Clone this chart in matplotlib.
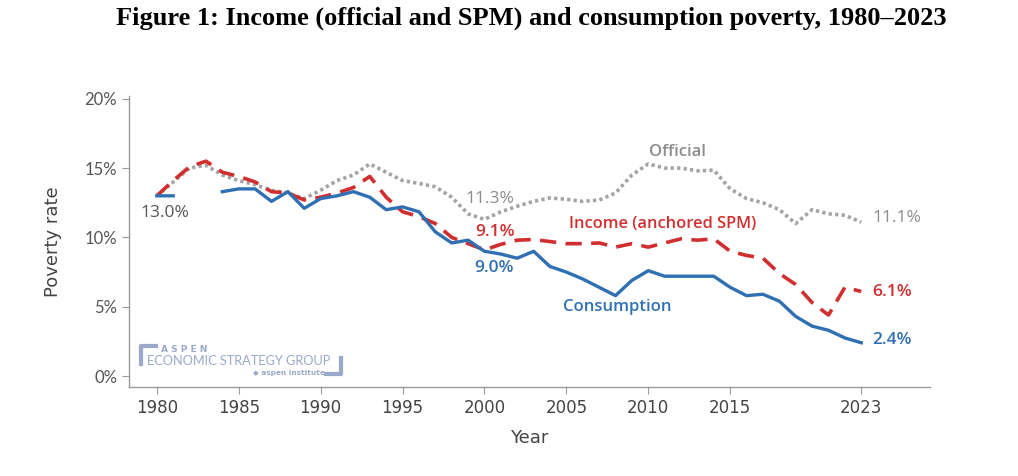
import numpy as np
import matplotlib
matplotlib.use('Agg')
import matplotlib.pyplot as plt
from matplotlib.lines import Line2D

years = list(range(1980, 2024))

official = [13.0, 14.0, 15.0, 15.2, 14.5, 14.1, 13.8, 13.4, 13.2, 12.8,
            13.4, 14.1, 14.5, 15.3, 14.7, 14.1, 13.9, 13.65, 12.9, 11.7,
            11.3, 11.85, 12.25, 12.6, 12.85, 12.75, 12.6, 12.7, 13.2, 14.5,
            15.3, 15.0, 15.0, 14.8, 14.85, 13.5, 12.8, 12.5, 12.0, 11.0,
            12.0, 11.7, 11.6, 11.1]

spm = [13.0, 14.1, 15.1, 15.5, 14.7, 14.4, 14.0, 13.3, 13.2, 12.7,
       12.9, 13.2, 13.6, 14.4, 12.9, 11.85, 11.5, 11.0, 10.0, 9.55,
       9.1, 9.5, 9.8, 9.85, 9.7, 9.55, 9.55, 9.6, 9.3, 9.55,
       9.3, 9.6, 9.9, 9.8, 9.9, 9.0, 8.7, 8.5, 7.4, 6.6,
       5.3, 4.4, 6.4, 6.1]

consumption = [13.0, 13.0, np.nan, np.nan, 13.3, 13.5, 13.5, 12.6, 13.3, 12.1,
               12.8, 13.0, 13.3, 12.9, 12.0, 12.2, 11.85, 10.4, 9.6, 9.8,
               9.0, 8.8, 8.5, 9.0, 7.9, 7.5, 7.0, 6.4, 5.8, 6.9,
               7.6, 7.2, 7.2, 7.2, 7.2, 6.4, 5.8, 5.9, 5.4, 4.3,
               3.6, 3.3, 2.75, 2.4]

x_ticks = [1980, 1985, 1990, 1995, 2000, 2005, 2010, 2015, 2023]
y_ticks = [0, 5, 10, 15, 20]

blue = '#2f6fb3'
red = '#d12f2f'
grey = '#a3a3a3'
txt_grey = '#8c8c8c'
axis_grey = '#9a9a9a'
logo = '#9aa8c9'

plt.rcParams['font.family'] = ['DejaVu Sans']
ann_font = ['Open Sans', 'DejaVu Sans']

fig = plt.figure(figsize=(10.18, 4.76), dpi=100)
ax = fig.add_axes([0.1267, 0.187, 0.7869, 0.611])

ax.plot(years, official, color=grey, lw=2.6, linestyle=(0, (0.9, 0.9)))
ax.plot(years, spm, color=red, lw=2.6, linestyle=(0, (4.5, 2.6)))
ax.plot(years, consumption, color=blue, lw=2.4)

ax.set_xlim(1978.3, 2027.2)
ax.set_ylim(-0.79, 20.19)
ax.set_xticks(x_ticks)
ax.set_xticklabels([str(y) for y in x_ticks], fontsize=12, color='#444444',
                   fontfamily=['Liberation Sans Narrow', 'DejaVu Sans'])
ax.set_yticks(y_ticks)
ax.set_yticklabels(['%d%%' % v for v in y_ticks], fontsize=12, color='#555555',
                   fontfamily=['Lato', 'DejaVu Sans'])
for s in ['top', 'right']:
    ax.spines[s].set_visible(False)
for s in ['left', 'bottom']:
    ax.spines[s].set_color(axis_grey)
    ax.spines[s].set_linewidth(1.0)
ax.tick_params(colors=axis_grey, length=5, width=0.8)
ax.tick_params(axis='x', labelcolor='#444444')
ax.tick_params(axis='y', labelcolor='#555555')

ax.set_ylabel('Poverty rate', fontsize=13, color='#444444', labelpad=16)
ax.set_xlabel('Year', fontsize=13, color='#444444', labelpad=9)

# annotations
ax.text(1980.5, 11.75, '13.0%', fontsize=12.5, color='#555555', ha='center', va='center',
        fontfamily=ann_font)
ax.text(2000.3, 12.8, '11.3%', fontsize=12.5, color=txt_grey, ha='center', va='center',
        fontfamily=ann_font)
ax.text(2000.65, 10.4, '9.1%', fontsize=12.5, color=red, ha='center', va='center',
        fontfamily=ann_font, fontweight='semibold')
ax.text(2000.6, 7.8, '9.0%', fontsize=12.5, color=blue, ha='center', va='center',
        fontfamily=ann_font, fontweight='semibold')
ax.text(2011.8, 16.15, 'Official', fontsize=12, color=txt_grey, ha='center', va='center',
        fontfamily=ann_font, fontweight='semibold')
ax.text(2010.9, 10.95, 'Income (anchored SPM)', fontsize=11.8, color=red, ha='center',
        va='center', fontfamily=ann_font, fontweight='semibold')
ax.text(2008.1, 5.0, 'Consumption', fontsize=12, color=blue, ha='center', va='center',
        fontfamily=ann_font, fontweight='semibold')
ax.text(2023.7, 11.4, '11.1%', fontsize=12.5, color=txt_grey, ha='left', va='center',
        fontfamily=ann_font)
ax.text(2023.7, 6.05, '6.1%', fontsize=12.5, color=red, ha='left', va='center',
        fontfamily=ann_font, fontweight='semibold')
ax.text(2023.7, 2.6, '2.4%', fontsize=12.5, color=blue, ha='left', va='center',
        fontfamily=ann_font, fontweight='semibold')

# logo
W, H = 1018.0, 476.0
def fx(px):
    return px / W
def fy(py):
    return 1 - py / H

fig.text(fx(161), fy(349), 'A S P E N', fontsize=6.5, color=logo, fontweight='bold',
         ha='left', va='center')
fig.text(fx(147), fy(361), 'ECONOMIC STRATEGY GROUP', fontsize=9.2, color=logo,
         ha='left', va='center', fontfamily=['Lato', 'DejaVu Sans'])
fig.text(fx(253), fy(373), '\u25c6 aspen institute', fontsize=5.3, color=logo,
         fontweight='bold', ha='left', va='center')
fig.add_artist(Line2D([fx(141), fx(141), fx(156)], [fy(364), fy(346), fy(346)],
                      color=logo, lw=3, transform=fig.transFigure))
fig.add_artist(Line2D([fx(326), fx(341), fx(341)], [fy(374), fy(374), fy(358)],
                      color=logo, lw=3, transform=fig.transFigure))

fig.text(0.522, 0.962, 'Figure 1: Income (official and SPM) and consumption poverty, 1980\u20132023',
         fontsize=19, fontweight='bold', ha='center', va='center',
         fontfamily=['Liberation Serif', 'DejaVu Serif'])

fig.savefig('out.png', dpi=100, facecolor='white')
